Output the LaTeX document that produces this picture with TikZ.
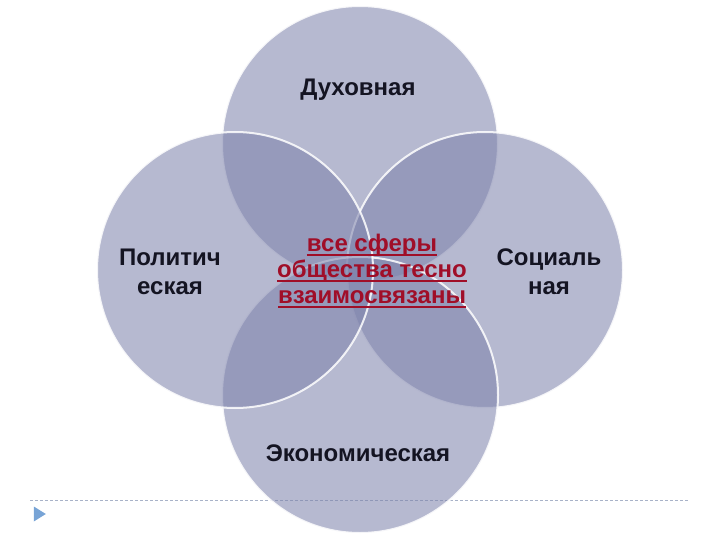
\documentclass[tikz,border=0pt]{standalone}
\usepackage{fontspec}
\setmainfont{Liberation Sans}
\usetikzlibrary{shapes.geometric}
\definecolor{venn}{RGB}{125,130,171}
\definecolor{labeltext}{RGB}{20,20,34}
\definecolor{linkred}{RGB}{160,14,40}
\definecolor{rule}{RGB}{168,178,200}
\definecolor{bullet}{RGB}{120,164,214}
% underline at a fixed depth
\newcommand\redline[1]{\setbox0\hbox{#1}\rlap{\rule[-4pt]{\wd0}{1.6pt}}\box0}

\begin{document}
\begin{tikzpicture}[x=1pt, y=-1pt,
		C/.style = {circle, minimum size=276pt, inner sep=0pt,% one sphere
			fill=venn, fill opacity=.56,
			draw=white, draw opacity=.85, line width=2pt},
		L/.style = {align=center, text=labeltext,
			font=\fontsize{24}{29}\selectfont\bfseries},
		R/.style = {align=center, text=linkred,
			font=\fontsize{24}{26}\selectfont\bfseries},
		]
		\useasboundingbox (0,0) rectangle (720,540);
		% footer rule and marker
		\coordinate (ruleL) at (30,500);
		\coordinate (ruleR) at (688,500);
		\draw[rule, line width=.8pt, dash pattern=on 3pt off 2pt] (ruleL) -- (ruleR);
		\node[isosceles triangle, isosceles triangle stretches, fill=bullet,
			minimum height=12pt, minimum width=15pt, inner sep=0pt] (mark) at (38,514) {};
		% the four spheres, drawn clockwise
		\node[C] (dukh) at (360,144) {};
		\node[C] (soc) at (485,270) {};
		\node[C] (econ) at (360,395) {};
		\node[C] (polit) at (235,270) {};
		\node[L] (dukhL) at (358,90) {Духовная};
		\node[L] (socL) at (549,272) {Социаль\\ная};
		\node[L] (econL) at (358,453) {Экономическая};
		\node[L] (politL) at (170,272) {Политич\\еская};
		\node[R] (allL) at (372,271) {\redline{все сферы}\\\redline{общества тесно}\\\redline{взаимосвязаны}};
\end{tikzpicture}
\end{document}
